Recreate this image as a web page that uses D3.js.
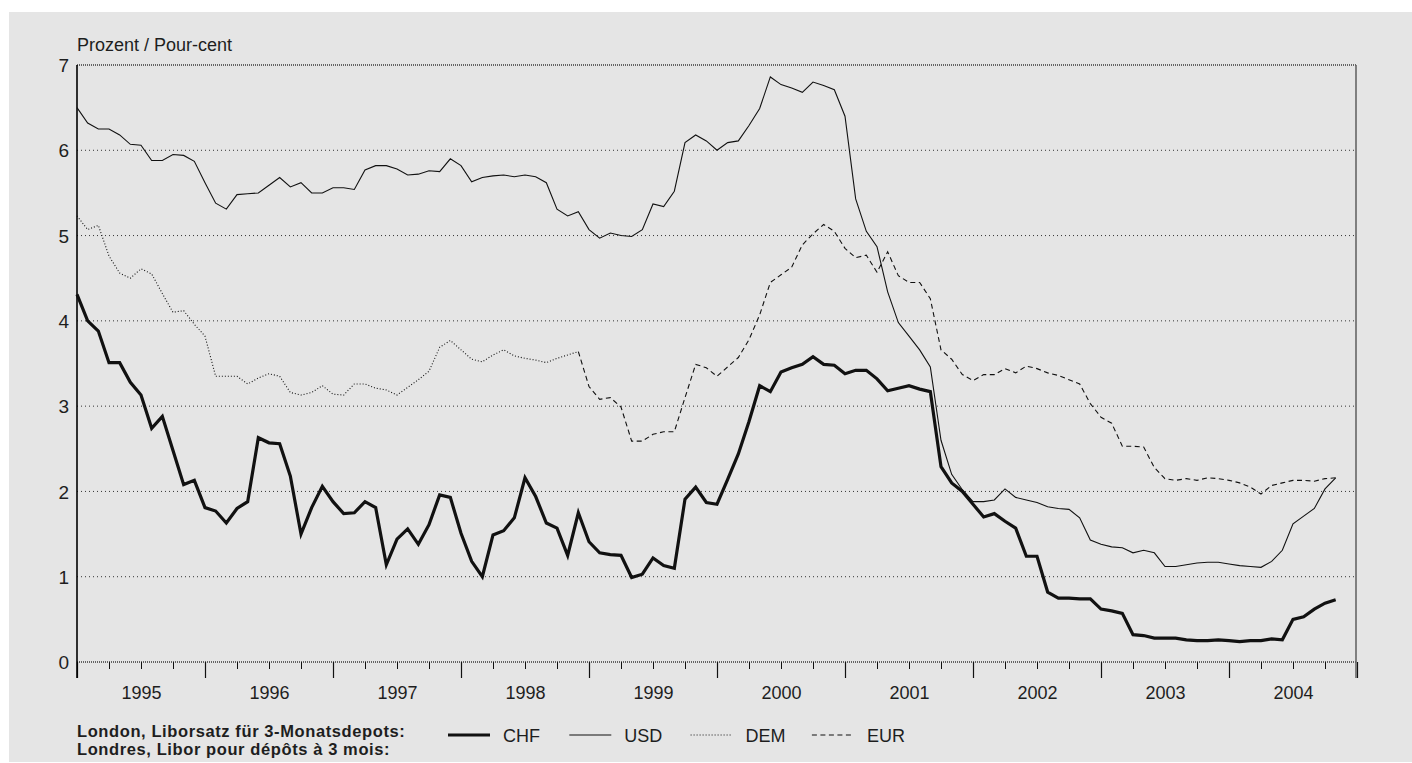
<!DOCTYPE html>
<html lang="de">
<head>
<meta charset="UTF-8">
<script src="https://cdn.jsdelivr.net/npm/d3@7"></script>
<style>
    body { margin: 0; background: #fff; }
    svg text { font-family: "Liberation Sans", Arial, sans-serif; fill: #1e1e1e; }
</style>
<title>Libor 3 Monate</title>
</head>
<body>
<script>
    // monthly values, Jan 1995 .. Nov 2004 (index 0 = Jan 1995)
    const years = ["1995", "1996", "1997", "1998", "1999", "2000", "2001", "2002", "2003", "2004"];
    const yTicks = [0, 1, 2, 3, 4, 5, 6, 7];

    const chf = [4.31, 4.00, 3.88, 3.51, 3.51, 3.28, 3.13, 2.74, 2.88, 2.48, 2.08, 2.13,
                 1.81, 1.77, 1.63, 1.80, 1.88, 2.63, 2.57, 2.56, 2.18, 1.50, 1.81, 2.06,
                 1.88, 1.74, 1.75, 1.88, 1.81, 1.14, 1.44, 1.56, 1.38, 1.61, 1.96, 1.93,
                 1.51, 1.18, 1.00, 1.49, 1.54, 1.69, 2.16, 1.94, 1.63, 1.57, 1.25, 1.75,
                 1.41, 1.28, 1.26, 1.25, 0.99, 1.03, 1.22, 1.13, 1.10, 1.91, 2.05, 1.87,
                 1.85, 2.14, 2.44, 2.82, 3.24, 3.17, 3.40, 3.45, 3.49, 3.58, 3.49, 3.48,
                 3.38, 3.42, 3.42, 3.32, 3.18, 3.21, 3.24, 3.20, 3.17, 2.29, 2.10, 2.00,
                 1.85, 1.70, 1.74, 1.65, 1.57, 1.24, 1.24, 0.82, 0.75, 0.75, 0.74, 0.74,
                 0.62, 0.60, 0.57, 0.32, 0.31, 0.28, 0.28, 0.28, 0.26, 0.25, 0.25, 0.26,
                 0.25, 0.24, 0.25, 0.25, 0.27, 0.26, 0.50, 0.53, 0.62, 0.69, 0.73];

    const usd = [6.50, 6.32, 6.25, 6.25, 6.18, 6.07, 6.06, 5.88, 5.88, 5.95, 5.94, 5.87,
                 5.62, 5.38, 5.31, 5.48, 5.49, 5.50, 5.59, 5.68, 5.57, 5.62, 5.50, 5.50,
                 5.56, 5.56, 5.54, 5.77, 5.82, 5.82, 5.78, 5.71, 5.72, 5.76, 5.75, 5.90,
                 5.82, 5.63, 5.68, 5.70, 5.71, 5.69, 5.71, 5.69, 5.62, 5.31, 5.23, 5.28,
                 5.07, 4.97, 5.03, 5.00, 4.99, 5.07, 5.37, 5.34, 5.52, 6.09, 6.18, 6.11,
                 6.00, 6.09, 6.11, 6.29, 6.49, 6.86, 6.77, 6.73, 6.68, 6.80, 6.76, 6.71,
                 6.40, 5.43, 5.05, 4.87, 4.34, 3.98, 3.82, 3.66, 3.46, 2.60, 2.20, 2.02,
                 1.88, 1.88, 1.90, 2.03, 1.93, 1.90, 1.87, 1.82, 1.80, 1.79, 1.69, 1.43,
                 1.38, 1.35, 1.34, 1.28, 1.31, 1.28, 1.12, 1.12, 1.14, 1.16, 1.17, 1.17,
                 1.15, 1.13, 1.12, 1.11, 1.18, 1.31, 1.62, 1.71, 1.80, 2.03, 2.16];

    // DEM Jan 1995 .. Dec 1998
    const dem = [5.23, 5.07, 5.12, 4.76, 4.56, 4.50, 4.61, 4.55, 4.32, 4.10, 4.12, 3.96,
                 3.82, 3.35, 3.35, 3.35, 3.26, 3.33, 3.38, 3.35, 3.16, 3.13, 3.16, 3.24,
                 3.14, 3.13, 3.26, 3.26, 3.21, 3.19, 3.13, 3.22, 3.31, 3.41, 3.69, 3.77,
                 3.66, 3.55, 3.52, 3.60, 3.66, 3.59, 3.56, 3.54, 3.51, 3.56, 3.60, 3.64];

    // EUR Jan 1999 .. Nov 2004
    const eurStart = 48;
    const eur = [3.23, 3.08, 3.10, 2.99, 2.59, 2.59, 2.67, 2.70, 2.70, 3.10, 3.49, 3.45,
                 3.35, 3.46, 3.57, 3.78, 4.07, 4.45, 4.54, 4.63, 4.89, 5.02, 5.13, 5.05,
                 4.85, 4.74, 4.77, 4.57, 4.81, 4.53, 4.45, 4.45, 4.26, 3.66, 3.55, 3.37,
                 3.30, 3.37, 3.37, 3.44, 3.39, 3.47, 3.44, 3.39, 3.36, 3.31, 3.26, 3.03,
                 2.87, 2.80, 2.53, 2.53, 2.52, 2.28, 2.15, 2.13, 2.15, 2.13, 2.16, 2.15,
                 2.13, 2.10, 2.05, 1.97, 2.07, 2.10, 2.13, 2.13, 2.12, 2.15, 2.16];

    const legendNames = ["CHF", "USD", "DEM", "EUR"];

    const w = 1412;
    const h = 763;
    const plotLeft = 77, plotRight = 1357, plotTop = 65, plotBottom = 662;

    const svg = d3.select("body").append("svg")
        .attr("width", w)
        .attr("height", h);

    svg.append("rect")
        .attr("x", 9).attr("y", 12)
        .attr("width", w - 9).attr("height", 750)
        .attr("fill", "#e5e5e5");

    const x = d3.scaleLinear().domain([0, 120]).range([plotLeft, plotRight]);
    const y = d3.scaleLinear().domain([0, 7]).range([plotBottom, plotTop]);

    // gridlines
    svg.append("g").selectAll("line")
        .data(yTicks)
        .enter()
        .append("line")
        .attr("x1", plotLeft).attr("x2", x(120) - 1)
        .attr("y1", d => y(d)).attr("y2", d => y(d))
        .attr("stroke", d => (d === 0 || d === 7) ? "#3a3a3a" : "#333")
        .attr("stroke-width", d => (d === 0 || d === 7) ? 1.5 : 1)
        .attr("stroke-dasharray", d => (d === 0 || d === 7) ? "1,1" : "1,3");

    // minor ticks (quarters)
    svg.append("g")
        .attr("transform", "translate(0," + plotBottom + ")")
        .call(d3.axisBottom(x).tickValues(d3.range(0, 121, 3).filter(m => m % 12)).tickSize(7).tickFormat(""))
        .call(g => g.select(".domain").remove())
        .call(g => g.selectAll("line").attr("stroke", "#111"));

    // year ticks
    svg.append("g")
        .attr("transform", "translate(0," + plotBottom + ")")
        .call(d3.axisBottom(x).tickValues(d3.range(0, 121, 12)).tickSize(16).tickFormat(""))
        .call(g => g.select(".domain").remove())
        .call(g => g.selectAll("line").attr("stroke", "#111").attr("stroke-width", 1.2));

    // year labels, centred in each year
    svg.append("g")
        .attr("transform", "translate(0," + plotBottom + ")")
        .call(d3.axisBottom(x).tickValues(d3.range(6, 120, 12)).tickSize(0).tickPadding(24)
            .tickFormat(m => years[Math.floor(m / 12)]))
        .call(g => g.select(".domain").remove())
        .call(g => g.selectAll("text").style("font-size", "18px"));

    // y labels
    svg.append("g")
        .attr("transform", "translate(" + plotLeft + ",0)")
        .call(d3.axisLeft(y).tickValues(yTicks).tickSize(0).tickPadding(8).tickFormat(d3.format("d")))
        .call(g => g.select(".domain").remove())
        .call(g => g.selectAll("text").style("font-size", "19px").attr("dy", "0.35em"));

    // frame
    svg.append("line")
        .attr("x1", plotLeft).attr("x2", plotLeft)
        .attr("y1", plotTop).attr("y2", plotBottom + 16)
        .attr("stroke", "#000").attr("stroke-width", 1.6);
    svg.append("line")
        .attr("x1", x(120) - 1).attr("x2", x(120) - 1)
        .attr("y1", plotTop).attr("y2", plotBottom + 16)
        .attr("stroke", "#666").attr("stroke-width", 1.6);

    svg.append("text")
        .attr("x", plotLeft).attr("y", 50.5)
        .style("font-size", "18px")
        .text("Prozent / Pour-cent");

    const line = d3.line()
        .x(d => x(d[0]))
        .y(d => y(d[1]));

    const chfPts = chf.map((v, i) => [i, v]);
    const usdPts = usd.map((v, i) => [i, v]);
    const demPts = dem.map((v, i) => [i, v]);
    const eurPts = [demPts[demPts.length - 1]].concat(eur.map((v, i) => [eurStart + i, v]));

    const styles = {
        CHF: { w: 3.2, dash: null },
        USD: { w: 1.1, dash: null },
        DEM: { w: 1.1, dash: "1,2" },
        EUR: { w: 1.1, dash: "5,3.5" }
    };

    [["DEM", demPts], ["EUR", eurPts], ["USD", usdPts], ["CHF", chfPts]].forEach(([name, pts]) => {
        svg.append("path")
            .datum(pts)
            .attr("d", line)
            .attr("fill", "none")
            .attr("stroke", "#111")
            .attr("stroke-width", styles[name].w)
            .attr("stroke-linejoin", "miter")
            .attr("stroke-dasharray", styles[name].dash);
    });

    // legend
    svg.append("text")
        .attr("x", plotLeft).attr("y", 736.5)
        .style("font-size", "16.5px")
        .style("font-weight", "bold")
        .style("letter-spacing", "0.6px")
        .text("London, Liborsatz für 3-Monatsdepots:");
    svg.append("text")
        .attr("x", plotLeft).attr("y", 755)
        .style("font-size", "16.5px")
        .style("font-weight", "bold")
        .style("letter-spacing", "0.6px")
        .text("Londres, Libor pour dépôts à 3 mois:");

    const legend = svg.append("g").selectAll("g")
        .data(legendNames)
        .enter()
        .append("g")
        .attr("transform", (d, i) => "translate(" + (448 + i * 121.3) + ",735)");

    legend.append("line")
        .attr("x1", 0).attr("x2", 42)
        .attr("stroke", "#111")
        .attr("stroke-width", d => styles[d].w)
        .attr("stroke-dasharray", d => styles[d].dash);

    legend.append("text")
        .attr("x", 55).attr("y", 6.5)
        .style("font-size", "18px")
        .text(d => d);
</script>
</body>
</html>
